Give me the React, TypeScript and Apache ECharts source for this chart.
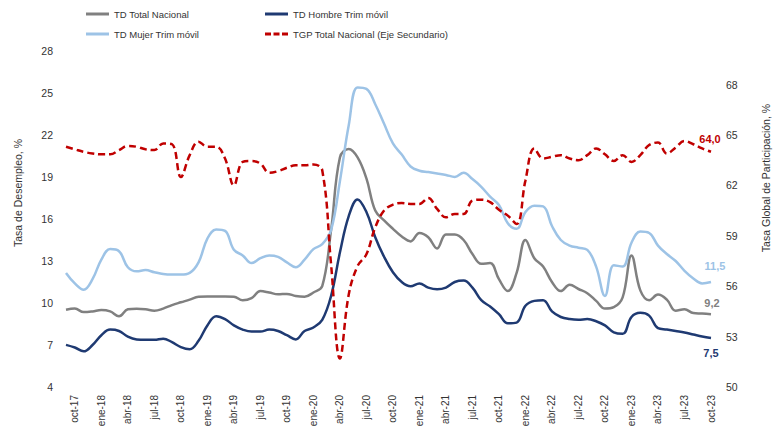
import React, { useEffect, useRef } from "react";
import * as echarts from "echarts";

const categories = [
  "sep-17", "oct-17", "nov-17", "dic-17",
  "ene-18", "feb-18", "mar-18", "abr-18", "may-18", "jun-18", "jul-18", "ago-18", "sep-18", "oct-18", "nov-18", "dic-18",
  "ene-19", "feb-19", "mar-19", "abr-19", "may-19", "jun-19", "jul-19", "ago-19", "sep-19", "oct-19", "nov-19", "dic-19",
  "ene-20", "feb-20", "mar-20", "abr-20", "may-20", "jun-20", "jul-20", "ago-20", "sep-20", "oct-20", "nov-20", "dic-20",
  "ene-21", "feb-21", "mar-21", "abr-21", "may-21", "jun-21", "jul-21", "ago-21", "sep-21", "oct-21", "nov-21", "dic-21",
  "ene-22", "feb-22", "mar-22", "abr-22", "may-22", "jun-22", "jul-22", "ago-22", "sep-22", "oct-22", "nov-22", "dic-22",
  "ene-23", "feb-23", "mar-23", "abr-23", "may-23", "jun-23", "jul-23", "ago-23", "sep-23", "oct-23",
];

const tdTotal = [
  9.52, 9.6, 9.35, 9.4, 9.5, 9.4, 9.05, 9.55, 9.59, 9.55,
  9.45, 9.6, 9.85, 10.05, 10.24, 10.45, 10.47, 10.47, 10.47, 10.45,
  10.2, 10.35, 10.85, 10.75, 10.62, 10.65, 10.5, 10.45, 10.75, 11.2,
  15.2, 20.4, 21.0, 20.4, 18.9, 16.6, 15.9, 15.3, 14.75, 14.4,
  15.0, 14.7, 13.9, 14.9, 14.89, 14.5, 13.5, 12.8, 12.85, 11.7,
  10.85, 12.15, 14.5, 13.2, 12.6, 11.5, 10.85, 11.3, 11.0, 10.7,
  10.15, 9.6, 9.7, 10.4, 13.4, 10.9, 10.2, 10.6, 10.24, 9.45,
  9.55, 9.28, 9.25, 9.2,
];

const tdHombre = [
  7.01, 6.82, 6.55, 7.0, 7.7, 8.1, 8.0, 7.6, 7.4, 7.37,
  7.37, 7.45, 7.2, 6.85, 6.7, 7.3, 8.4, 9.05, 8.85, 8.4,
  8.1, 7.96, 7.96, 8.1, 8.0, 7.7, 7.4, 8.0, 8.25, 8.8,
  10.5, 13.6, 16.2, 17.4, 16.5, 14.7, 13.3, 12.2, 11.5, 11.2,
  11.4, 11.1, 10.98, 11.1, 11.5, 11.6, 11.1, 10.2, 9.75, 9.2,
  8.55, 8.6, 9.8, 10.15, 10.2, 9.4, 9.0, 8.85, 8.8, 8.85,
  8.7, 8.4, 7.9, 7.8, 9.0, 9.3, 9.1, 8.2, 8.1, 8.0,
  7.9, 7.75, 7.6, 7.5,
];

const tdMujer = [
  12.15, 11.4, 10.95, 11.7, 13.1, 13.85, 13.7, 12.55, 12.26, 12.35,
  12.2, 12.07, 12.03, 12.03, 12.15, 12.9, 14.6, 15.25, 15.15, 13.8,
  13.4, 12.85, 13.2, 13.4, 13.3, 12.9, 12.55, 13.1, 13.85, 14.2,
  15.2, 18.7, 22.7, 25.4, 25.3, 24.2, 22.8, 21.4, 20.6, 19.75,
  19.45, 19.35, 19.25, 19.15, 19.0, 19.3, 18.85, 18.3, 17.6, 17.0,
  15.7, 15.3, 16.5, 16.95, 16.9, 15.5, 14.5, 14.1, 13.95, 13.8,
  12.6, 10.5, 12.7, 12.6, 14.3, 15.1, 15.0, 14.1, 13.5, 13.0,
  12.3, 11.75, 11.4, 11.5,
];

const tgpTotal = [
  64.3, 64.15, 64.0, 63.9, 63.85, 63.85, 64.1, 64.35, 64.3, 64.15,
  64.1, 64.5, 64.45, 62.5, 63.8, 64.6, 64.3, 64.3, 63.6, 62.0,
  63.4, 63.45, 63.3, 62.75, 62.85, 63.05, 63.2, 63.2, 63.25, 62.9,
  57.3, 51.7, 55.5, 57.2, 57.9, 59.5, 60.5, 60.85, 60.95, 60.9,
  60.9, 61.25, 60.6, 60.1, 60.3, 60.3, 61.1, 61.15, 61.0, 60.55,
  60.2, 59.7, 62.3, 64.2, 63.6, 63.7, 63.8, 63.6, 63.5, 63.8,
  64.2, 63.85, 63.45, 63.8, 63.4, 63.8, 64.4, 64.55, 63.9, 64.25,
  64.65, 64.45, 64.2, 64.0,
];

const leftTicks = { min: 4, max: 28, interval: 3 };
const rightTicks = { min: 50, max: 70, interval: 3 };

const FONT = 'Arial, "Liberation Sans", sans-serif';
const C_TOTAL = "#808080";
const C_HOMBRE = "#1f3a72";
const C_MUJER = "#9dc3e6";
const C_TGP = "#c00000";

const fmt = (v: number) => v.toFixed(1).replace(".", ",");

const SOLID_ICON = "path://M0,0h23v3h-23z";
const DASH_ICON = "path://M0,0h6v3h-6z M8.5,0h6v3h-6z M17,0h6v3h-6z";

function endLabel(color: string, dx: number, above: boolean, pad: number) {
  return {
    show: true,
    formatter: (p: any) => fmt(Array.isArray(p.value) ? p.value[1] : p.value),
    color,
    fontSize: 11,
    fontWeight: "bold",
    fontFamily: FONT,
    distance: dx,
    align: "center",
    verticalAlign: above ? "bottom" : "top",
    padding: above ? [0, 0, pad, 0] : [pad, 0, 0, 0],
  };
}

export default function App() {
  const ref = useRef<HTMLDivElement>(null);

  useEffect(() => {
    document.body.style.margin = "0";
    if (!ref.current) return;
    const chart = echarts.init(ref.current, undefined, { renderer: "svg" });
    const legendBase = {
      padding: 0,
      itemWidth: 23,
      itemHeight: 3,
      textStyle: { fontSize: 9.5, color: "#333", fontFamily: FONT },
    };
    chart.setOption({
      animation: false,
      backgroundColor: "#ffffff",
      grid: { left: 66, right: 69, top: 51, bottom: 45, containLabel: false },
      legend: [
        { ...legendBase, left: 86, top: 9, icon: SOLID_ICON, data: ["TD Total Nacional"] },
        { ...legendBase, left: 265, top: 9, icon: SOLID_ICON, data: ["TD Hombre Trim móvil"] },
        { ...legendBase, left: 86, top: 29, icon: SOLID_ICON, data: ["TD Mujer Trim móvil"] },
        { ...legendBase, left: 265, top: 29, icon: DASH_ICON, data: ["TGP Total Nacional (Eje Secundario)"] },
      ],
      xAxis: {
        type: "category",
        data: categories,
        boundaryGap: false,
        axisLine: { show: false },
        axisTick: { show: false },
        splitLine: { show: false },
        axisLabel: {
          rotate: 90,
          interval: (index: number) => index % 3 === 1,
          margin: 8,
          fontSize: 10,
          color: "#333",
          fontFamily: FONT,
        },
      },
      yAxis: [
        {
          type: "value",
          min: leftTicks.min,
          max: leftTicks.max,
          interval: leftTicks.interval,
          axisLine: { show: false },
          axisTick: { show: false },
          splitLine: { show: false },
          axisLabel: { fontSize: 10.5, color: "#333", margin: 13, fontFamily: FONT },
        },
        {
          type: "value",
          min: rightTicks.min,
          max: rightTicks.max,
          interval: rightTicks.interval,
          position: "right",
          axisLine: { show: false },
          axisTick: { show: false },
          splitLine: { show: false },
          axisLabel: {
            fontSize: 10.5,
            color: "#333",
            margin: 15,
            fontFamily: FONT,
            formatter: (v: number) => (v === 70 ? "" : String(v)),
          },
        },
      ],
      graphic: [
        {
          type: "text",
          x: 18,
          y: 193,
          rotation: Math.PI / 2,
          style: {
            text: "Tasa de Desempleo, %",
            fontSize: 10.5,
            fontFamily: FONT,
            fill: "#333",
            textAlign: "center",
            textVerticalAlign: "middle",
          },
        },
        {
          type: "text",
          x: 766,
          y: 178,
          rotation: Math.PI / 2,
          style: {
            text: "Tasa Global de Participación, %",
            fontSize: 10.5,
            fontFamily: FONT,
            fill: "#333",
            textAlign: "center",
            textVerticalAlign: "middle",
          },
        },
      ],
      series: [
        {
          name: "TD Total Nacional",
          type: "line",
          yAxisIndex: 0,
          smooth: 0.4,
          symbol: "none",
          lineStyle: { color: C_TOTAL, width: 2.5 },
          itemStyle: { color: C_TOTAL },
          endLabel: endLabel(C_TOTAL, 1, true, 6),
          data: tdTotal,
        },
        {
          name: "TD Hombre Trim móvil",
          type: "line",
          yAxisIndex: 0,
          smooth: 0.4,
          symbol: "none",
          lineStyle: { color: C_HOMBRE, width: 2.5 },
          itemStyle: { color: C_HOMBRE },
          endLabel: endLabel(C_HOMBRE, 0, false, 9),
          data: tdHombre,
        },
        {
          name: "TD Mujer Trim móvil",
          type: "line",
          yAxisIndex: 0,
          smooth: 0.4,
          symbol: "none",
          lineStyle: { color: C_MUJER, width: 2.5 },
          itemStyle: { color: C_MUJER },
          endLabel: endLabel(C_MUJER, 4, true, 11),
          data: tdMujer,
        },
        {
          name: "TGP Total Nacional (Eje Secundario)",
          type: "line",
          yAxisIndex: 1,
          smooth: 0.4,
          symbol: "none",
          lineStyle: { color: C_TGP, width: 2.5, type: [7, 4] },
          itemStyle: { color: C_TGP },
          endLabel: endLabel(C_TGP, -1, true, 7),
          data: tgpTotal,
        },
      ],
    });
    return () => chart.dispose();
  }, []);

  return (
    <div
      ref={ref}
      style={{ position: "absolute", left: 0, top: 0, width: 780, height: 432, background: "#fff" }}
    />
  );
}
